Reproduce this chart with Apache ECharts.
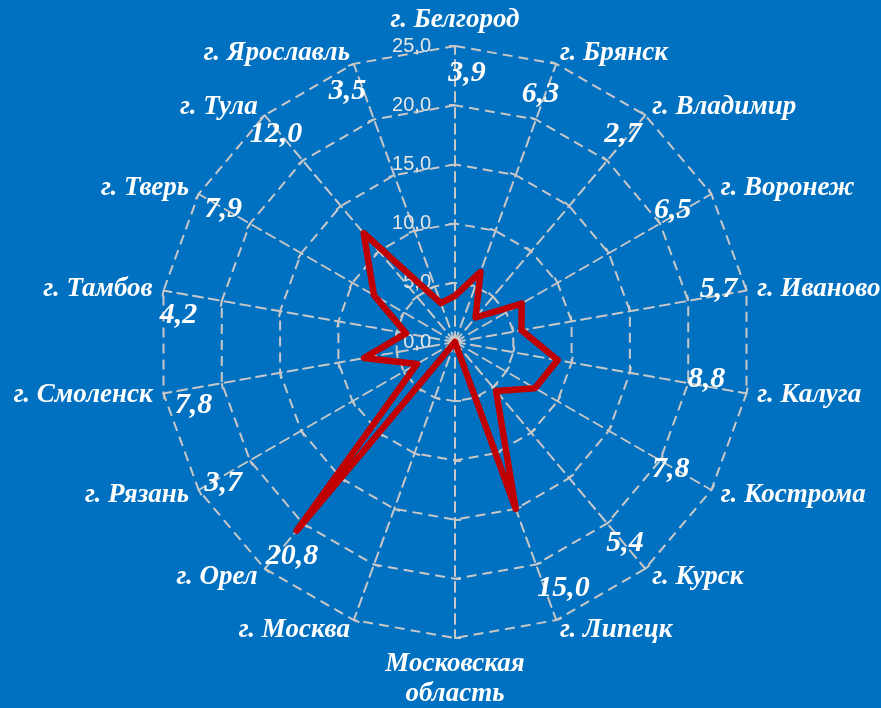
<!DOCTYPE html>
<html>
<head>
<meta charset="utf-8">
<script src="https://cdn.jsdelivr.net/npm/echarts@6/dist/echarts.min.js"></script>
<style>
  html, body { margin: 0; padding: 0; background: #0070C0; }
  #chart { width: 881px; height: 708px; }
</style>
</head>
<body>
<div id="chart"></div>
<script>
const categories = [
  'г. Белгород', 'г. Брянск', 'г. Владимир', 'г. Воронеж', 'г. Иваново',
  'г. Калуга', 'г. Кострома', 'г. Курск', 'г. Липецк', 'Московская\nобласть',
  'г. Москва', 'г. Орел', 'г. Рязань', 'г. Смоленск', 'г. Тамбов',
  'г. Тверь', 'г. Тула', 'г. Ярославль'
];
const values = [3.9, 6.3, 2.7, 6.5, 5.7, 8.8, 7.8, 5.4, 15.0, 0, 0, 20.8, 3.7, 7.8, 4.2, 7.9, 12.0, 3.5];
const axisMin = 0;
const axisMax = 25;
const axisSplits = 5;

// styling: small pixel nudges of the value labels (as placed in the original)
const LABEL_NUDGE = [
  [12, -1], [-6, 4], [-4, -3], [-14, 2], [0, -6], [-12, -9], [-16, -7], [-2, -4], [17, -5],
  [0, 0], [0, 0], [9, 9], [0, 7], [2, 17], [-13, 20], [0, 1], [-7, -3], [-16, 1]
];

const fmt = v => v.toFixed(1).replace('.', ',');
const N = categories.length;
const LABEL_R = 22.6;
const GRID = '#C8C8C8';

// ECharts radar runs counter-clockwise; reorder so categories run clockwise from the top
const order = [0];
for (let i = N - 1; i >= 1; i--) order.push(i);

const chart = echarts.init(document.getElementById('chart'), null, { renderer: 'canvas' });

const indicator = order.map((k, j) => {
  const o = { name: categories[k], min: axisMin, max: axisMax };
  if (j === 0) o.axisLabel = { show: true };
  return o;
});
const radarValues = order.map(k => values[k]);

const labelData = [];
values.forEach((v, i) => {
  if (v) labelData.push({
    value: [LABEL_R, i * 360 / N],
    name: fmt(v),
    label: { offset: LABEL_NUDGE[i] }
  });
});

chart.setOption({
  backgroundColor: '#0070C0',
  animation: false,
  radar: {
    center: [455, 342],
    radius: 296,
    startAngle: 90,
    shape: 'polygon',
    splitNumber: axisSplits,
    indicator: indicator,
    nameGap: 11,
    axisName: {
      color: '#FFFFFF',
      fontFamily: 'Liberation Serif',
      fontStyle: 'italic',
      fontWeight: 'bold',
      fontSize: 27,
      lineHeight: 30
    },
    splitLine: { lineStyle: { color: GRID, width: 2, type: [10, 6] } },
    splitArea: { show: false },
    axisLine: { lineStyle: { color: GRID, width: 2, type: [10, 6] } },
    axisTick: { show: true, length: 6, lineStyle: { color: GRID, width: 2 } },
    axisLabel: {
      show: false,
      color: '#E6E6E6',
      fontFamily: 'Liberation Sans',
      fontSize: 20,
      margin: 24,
      formatter: v => fmt(v)
    }
  },
  polar: { center: [455, 342], radius: 296 },
  angleAxis: { type: 'value', min: 0, max: 360, startAngle: 90, clockwise: true, show: false },
  radiusAxis: { type: 'value', min: axisMin, max: axisMax, show: false },
  series: [
    {
      type: 'radar',
      symbol: 'none',
      lineStyle: { color: '#C00000', width: 6.5, join: 'round', cap: 'round' },
      data: [{ value: radarValues }]
    },
    {
      type: 'scatter',
      coordinateSystem: 'polar',
      symbolSize: 1,
      itemStyle: { color: 'rgba(0,0,0,0)', opacity: 1 },
      label: {
        show: true,
        position: 'inside',
        formatter: '{b}',
        color: '#FFFFFF',
        fontFamily: 'Liberation Serif',
        fontStyle: 'italic',
        fontWeight: 'bold',
        fontSize: 30
      },
      data: labelData
    }
  ]
});
</script>
</body>
</html>
